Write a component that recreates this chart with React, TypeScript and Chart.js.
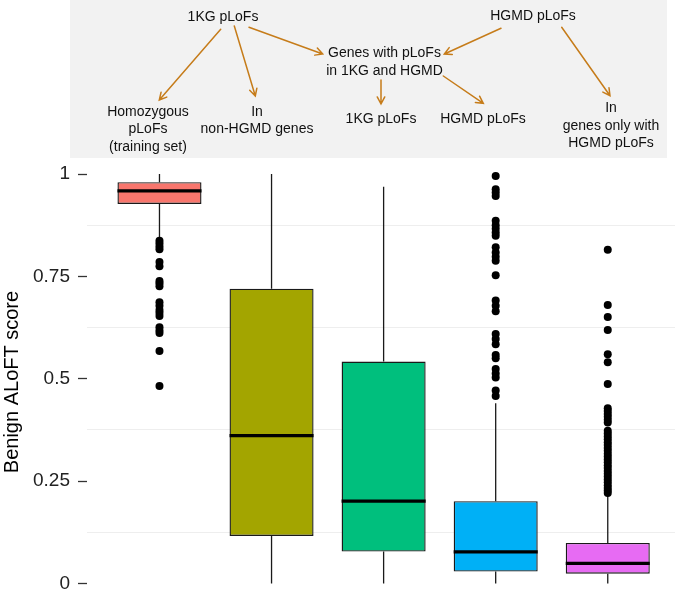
import React, { useEffect, useRef } from "react";
import { Chart, registerables } from "chart.js";

Chart.register(...registerables);

// ---- Data ----
const categories = [
  "Homozygous pLoFs (training set)",
  "In non-HGMD genes",
  "1KG pLoFs",
  "HGMD pLoFs",
  "In genes only with HGMD pLoFs",
];
const boxColors = ["#F8766D", "#A3A500", "#00BF7D", "#00B0F6", "#E76BF3"];
const whiskerLow = [0.845, 0, 0, 0, 0];
const q1 = [0.927, 0.116, 0.078, 0.029, 0.024];
const median = [0.959, 0.361, 0.201, 0.077, 0.049];
const q3 = [0.98, 0.72, 0.542, 0.201, 0.099];
const whiskerHigh = [1.0, 1.0, 0.969, 0.44, 0.215];

const outliers1 = [
  0.837, 0.83, 0.823, 0.816, 0.785, 0.775, 0.739, 0.733, 0.726, 0.687, 0.678,
  0.668, 0.661, 0.653, 0.626, 0.618, 0.612, 0.568, 0.482,
];
const outliers2: number[] = [];
const outliers3: number[] = [];
const outliers4 = [
  0.995, 0.963, 0.955, 0.946, 0.886, 0.875, 0.866, 0.857, 0.849, 0.821, 0.808,
  0.798, 0.788, 0.753, 0.691, 0.678, 0.665, 0.609, 0.597, 0.584, 0.558, 0.55,
  0.524, 0.513, 0.503, 0.471, 0.458,
];
const outliers5 = [
  0.815, 0.68, 0.651, 0.619, 0.56, 0.54, 0.487, 0.428, 0.421, 0.414, 0.407,
  0.4, 0.393, 0.373, 0.366, 0.359, 0.352, 0.345, 0.338, 0.331, 0.324, 0.317,
  0.31, 0.303, 0.296, 0.289, 0.282, 0.275, 0.268, 0.261, 0.254, 0.247, 0.24,
  0.233, 0.227, 0.221,
];
const outlierGroups = [outliers1, outliers2, outliers3, outliers4, outliers5];

const yTickValues = [0, 0.125, 0.25, 0.375, 0.5, 0.625, 0.75, 0.875, 1];
const yTickLabels = ["0", "", "0.25", "", "0.5", "", "0.75", "", "1"];

// ---- Annotation panel (text + arrows) ----
const panelTexts = [
  { lines: ["1KG pLoFs"], x: 223, y: 17 },
  { lines: ["HGMD pLoFs"], x: 533, y: 16 },
  { lines: ["Genes with pLoFs", "in 1KG and HGMD"], x: 384.5, y: 53.5 },
  { lines: ["Homozygous", "pLoFs", "(training set)"], x: 148, y: 112 },
  { lines: ["In", "non-HGMD genes"], x: 257, y: 112 },
  { lines: ["1KG pLoFs"], x: 381, y: 119 },
  { lines: ["HGMD pLoFs"], x: 483, y: 119 },
  { lines: ["In", "genes only with", "HGMD pLoFs"], x: 611, y: 108.5 },
];
const panelArrows = [
  { from: [220.7, 29.3], to: [159.3, 100] },
  { from: [234.3, 26], to: [255.3, 96] },
  { from: [249, 27.3], to: [322.7, 54] },
  { from: [381, 80], to: [381, 104] },
  { from: [501, 28.3], to: [444.3, 54] },
  { from: [443.3, 76], to: [483.3, 103.3] },
  { from: [561.7, 27.3], to: [610, 95.7] },
];

const FONT = "'Liberation Sans', Arial, Helvetica, sans-serif";

const panelPlugin = {
  id: "annotationPanel",
  afterDraw(chart: any) {
    const ctx = chart.ctx as CanvasRenderingContext2D;
    ctx.save();
    ctx.fillStyle = "#F2F2F2";
    ctx.fillRect(70, 0, 597, 158);
    ctx.font = `14px ${FONT}`;
    ctx.fillStyle = "#111111";
    ctx.textAlign = "center";
    ctx.textBaseline = "middle";
    for (const t of panelTexts) {
      t.lines.forEach((line, i) => ctx.fillText(line, t.x, t.y + i * 17.5));
    }
    ctx.strokeStyle = "#C67C1A";
    ctx.lineWidth = 1.5;
    ctx.lineCap = "round";
    for (const a of panelArrows) {
      const [x1, y1] = a.from;
      const [x2, y2] = a.to;
      ctx.beginPath();
      ctx.moveTo(x1, y1);
      ctx.lineTo(x2, y2);
      const ang = Math.atan2(y2 - y1, x2 - x1);
      const len = 8;
      const spread = (28 * Math.PI) / 180;
      ctx.moveTo(x2 - len * Math.cos(ang - spread), y2 - len * Math.sin(ang - spread));
      ctx.lineTo(x2, y2);
      ctx.lineTo(x2 - len * Math.cos(ang + spread), y2 - len * Math.sin(ang + spread));
      ctx.stroke();
    }
    ctx.restore();
  },
};

// Median lines drawn from each box's bar element and the y scale
const medianPlugin = {
  id: "medianLines",
  afterDatasetsDraw(chart: any) {
    const meta = chart.getDatasetMeta(1);
    const yScale = chart.scales.y;
    const ctx = chart.ctx as CanvasRenderingContext2D;
    ctx.save();
    ctx.strokeStyle = "#000000";
    ctx.lineWidth = 3.2;
    meta.data.forEach((bar: any, i: number) => {
      const y = yScale.getPixelForValue(median[i]);
      ctx.beginPath();
      ctx.moveTo(bar.x - bar.width / 2, y);
      ctx.lineTo(bar.x + bar.width / 2, y);
      ctx.stroke();
    });
    ctx.restore();
  },
};

const isMajor = (v: number) => Math.abs(v * 4 - Math.round(v * 4)) < 1e-9;

export default function App() {
  const canvasRef = useRef<HTMLCanvasElement | null>(null);

  useEffect(() => {
    if (!canvasRef.current) return;

    const whiskerData: any[] = [];
    categories.forEach((_, i) => {
      whiskerData.push({ x: i + 1, y: q3[i] });
      whiskerData.push({ x: i + 1, y: whiskerHigh[i] });
      whiskerData.push({ x: i + 1, y: null });
      whiskerData.push({ x: i + 1, y: q1[i] });
      whiskerData.push({ x: i + 1, y: whiskerLow[i] });
      whiskerData.push({ x: i + 1, y: null });
    });

    const outlierData: any[] = [];
    outlierGroups.forEach((g, i) => g.forEach((v) => outlierData.push({ x: i + 1, y: v })));

    const chart = new Chart(canvasRef.current, {
      type: "bar",
      data: {
        datasets: [
          {
            type: "line",
            label: "whiskers",
            data: whiskerData,
            borderColor: "#1a1a1a",
            borderWidth: 1.3,
            pointRadius: 0,
            spanGaps: false,
            order: 3,
          } as any,
          {
            type: "bar",
            label: "box",
            data: categories.map((_, i) => ({ x: i + 1, y: [q1[i], q3[i]] })),
            backgroundColor: boxColors,
            borderColor: "#1a1a1a",
            borderWidth: 1.4,
            borderSkipped: false,
            grouped: false,
            barPercentage: 0.75,
            categoryPercentage: 1,
            order: 2,
          } as any,
          {
            type: "scatter",
            label: "outliers",
            data: outlierData,
            backgroundColor: "#000000",
            borderWidth: 0,
            pointRadius: 4,
            order: 1,
          } as any,
        ],
      },
      options: {
        animation: false,
        responsive: false,
        layout: { autoPadding: false, padding: { top: 160, left: 0, right: 0, bottom: 0 } },
        plugins: {
          legend: { display: false },
          tooltip: { enabled: false },
        },
        scales: {
          x: {
            type: "linear",
            min: 0.3533,
            max: 5.6,
            offset: false,
            display: false,
            grid: { offset: false },
            afterBuildTicks: (scale: any) => {
              scale.ticks = categories.map((_, i) => ({ value: i + 1 }));
            },
          },
          y: {
            type: "linear",
            min: -0.0501,
            max: 1.0342,
            afterBuildTicks: (scale: any) => {
              scale.ticks = yTickValues.map((v) => ({ value: v }));
            },
            afterFit: (scale: any) => {
              scale.width = 87;
              scale.paddingTop = 0;
              scale.paddingBottom = 0;
            },
            ticks: {
              autoSkip: false,
              padding: 8,
              color: "#222222",
              font: { family: FONT, size: 19 },
              callback: (value: any) => {
                const idx = yTickValues.findIndex((v) => Math.abs(v - Number(value)) < 1e-9);
                return idx >= 0 ? yTickLabels[idx] : "";
              },
            },
            grid: {
              color: (ctx: any) => (ctx.tick && isMajor(ctx.tick.value) ? "rgba(0,0,0,0)" : "#EEEEEE"),
              tickColor: (ctx: any) => (ctx.tick && isMajor(ctx.tick.value) ? "#333333" : "rgba(0,0,0,0)"),
              tickLength: 9,
              tickWidth: 1.3,
              lineWidth: 1,
            },
            border: { display: false },
            title: {
              display: true,
              text: "Benign ALoFT score",
              color: "#000000",
              font: { family: FONT, size: 20 },
              padding: 0,
            },
          },
        },
      } as any,
      plugins: [panelPlugin, medianPlugin],
    });

    return () => chart.destroy();
  }, []);

  return (
    <div style={{ position: "absolute", left: 0, top: 0, width: 675, height: 604 }}>
      <canvas ref={canvasRef} width={675} height={604} style={{ display: "block" }} />
    </div>
  );
}
